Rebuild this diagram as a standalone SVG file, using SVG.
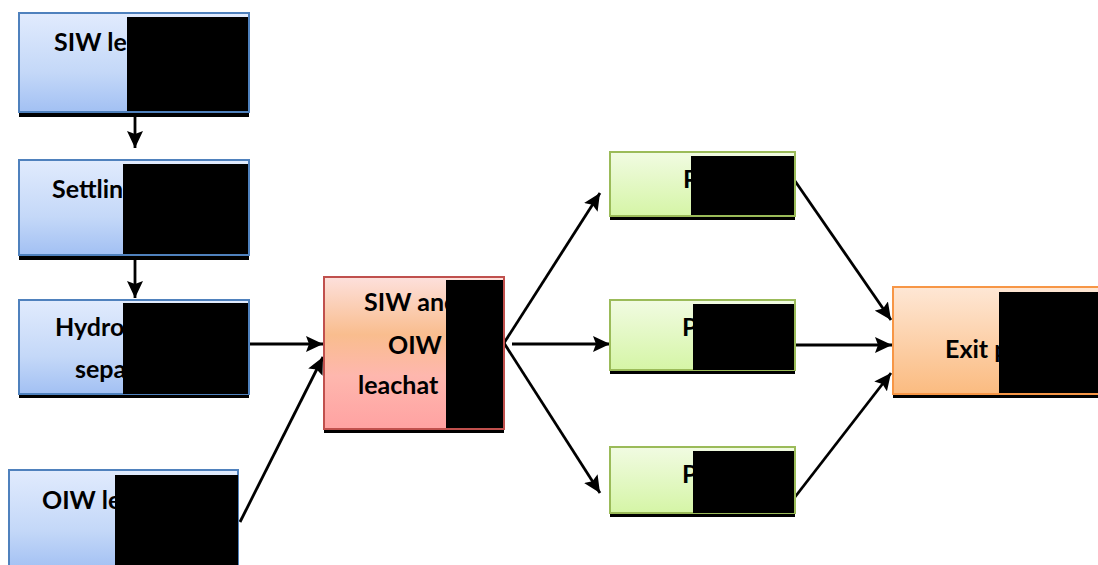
<svg xmlns="http://www.w3.org/2000/svg" width="1098" height="565" viewBox="0 0 1098 565">
<defs>
<linearGradient id="gBlue" x1="0" y1="0" x2="0" y2="1"><stop offset="0" stop-color="#e1ebfd"/><stop offset="0.6" stop-color="#c4d8f8"/><stop offset="1" stop-color="#a2c0f3"/></linearGradient>
<linearGradient id="gGreen" x1="0" y1="0" x2="0" y2="1"><stop offset="0" stop-color="#f1fbe2"/><stop offset="1" stop-color="#d5f5a6"/></linearGradient>
<linearGradient id="gRed" x1="0" y1="0" x2="0" y2="1"><stop offset="0" stop-color="#fde0dc"/><stop offset="0.38" stop-color="#f9bd8e"/><stop offset="0.65" stop-color="#feb7ae"/><stop offset="1" stop-color="#ffa2a2"/></linearGradient>
<linearGradient id="gOrange" x1="0" y1="0" x2="0" y2="1"><stop offset="0" stop-color="#fee7d5"/><stop offset="1" stop-color="#fbbb80"/></linearGradient>
<marker id="arr" markerUnits="userSpaceOnUse" markerWidth="18" markerHeight="16" refX="17" refY="8" orient="auto"><path d="M0,0 L17,8 L0,16 L3,8 z" fill="#000"/></marker>
<style>
.sh{fill:#000}
.blk{fill:#000}
.blue{fill:url(#gBlue);stroke:#4f81bd;stroke-width:2}
.green{fill:url(#gGreen);stroke:#9bbb59;stroke-width:2}
.red{fill:url(#gRed);stroke:#c0504d;stroke-width:2}
.orange{fill:url(#gOrange);stroke:#f79646;stroke-width:2}
.t{font-family:Lato,"Open Sans","Liberation Sans",sans-serif;font-weight:bold;font-size:25px;fill:#000}
.c{stroke:#000;stroke-width:2.8;fill:none;marker-end:url(#arr)}
</style>
</defs>
<g id="connectors">
<line class="c" x1="135" y1="117" x2="135" y2="148"/>
<line class="c" x1="135" y1="260" x2="135" y2="298"/>
<line class="c" x1="249" y1="344" x2="323" y2="344"/>
<line class="c" x1="240" y1="522" x2="323" y2="357"/>
<line class="c" x1="504" y1="343" x2="600" y2="193"/>
<line class="c" x1="512" y1="344" x2="610" y2="344"/>
<line class="c" x1="504" y1="343" x2="600" y2="493"/>
<line class="c" x1="795" y1="181" x2="891" y2="320"/>
<line class="c" x1="795" y1="345" x2="892" y2="345"/>
<line class="c" x1="795" y1="497" x2="891" y2="373"/>
</g>
<g id="n1"><rect class="sh" x="19" y="17" width="230" height="100"/><rect class="blue" x="19" y="13" width="230" height="99"/><text class="t" x="54" y="51">SIW le</text><rect class="blk" x="127" y="17" width="121" height="94"/></g>
<g id="n2"><rect class="sh" x="19" y="164" width="230" height="96"/><rect class="blue" x="19" y="160" width="230" height="95"/><text class="t" x="52" y="198">Settlin</text><rect class="blk" x="123" y="164" width="125" height="90"/></g>
<g id="n3"><rect class="sh" x="19" y="304" width="230" height="94"/><rect class="blue" x="19" y="300" width="230" height="94"/><text class="t" x="55" y="336">Hydroc</text><text class="t" x="75" y="378">separ</text><rect class="blk" x="123" y="303" width="125" height="91"/></g>
<g id="n4"><rect class="blue" x="9" y="470" width="229" height="100"/><text class="t" x="42" y="509">OIW le</text><rect class="blk" x="115" y="475" width="123" height="92"/></g>
<g id="n5"><rect class="sh" x="324" y="281" width="180" height="152"/><rect class="red" x="324" y="277" width="180" height="152"/><text class="t" x="364" y="311">SIW and</text><text class="t" x="388" y="354">OIW</text><text class="t" x="358" y="394">leachat</text><rect class="blk" x="446" y="280" width="57" height="148"/></g>
<g id="n6"><rect class="sh" x="610" y="156" width="185" height="64"/><rect class="green" x="610" y="152" width="185" height="64"/><text class="t" x="683" y="188">P</text><rect class="blk" x="691" y="156" width="103" height="59"/></g>
<g id="n7"><rect class="sh" x="610" y="304" width="185" height="70"/><rect class="green" x="610" y="300" width="185" height="70"/><text class="t" x="682" y="336">P</text><rect class="blk" x="693" y="304" width="101" height="66"/></g>
<g id="n8"><rect class="sh" x="610" y="451" width="185" height="66"/><rect class="green" x="610" y="447" width="185" height="66"/><text class="t" x="682" y="483">P</text><rect class="blk" x="693" y="451" width="101" height="62"/></g>
<g id="n9"><rect class="sh" x="893" y="291" width="210" height="107"/><rect class="orange" x="893" y="287" width="210" height="107"/><text class="t" x="945" y="358">Exit p</text><rect class="blk" x="999" y="292" width="99" height="101"/></g>
</svg>
